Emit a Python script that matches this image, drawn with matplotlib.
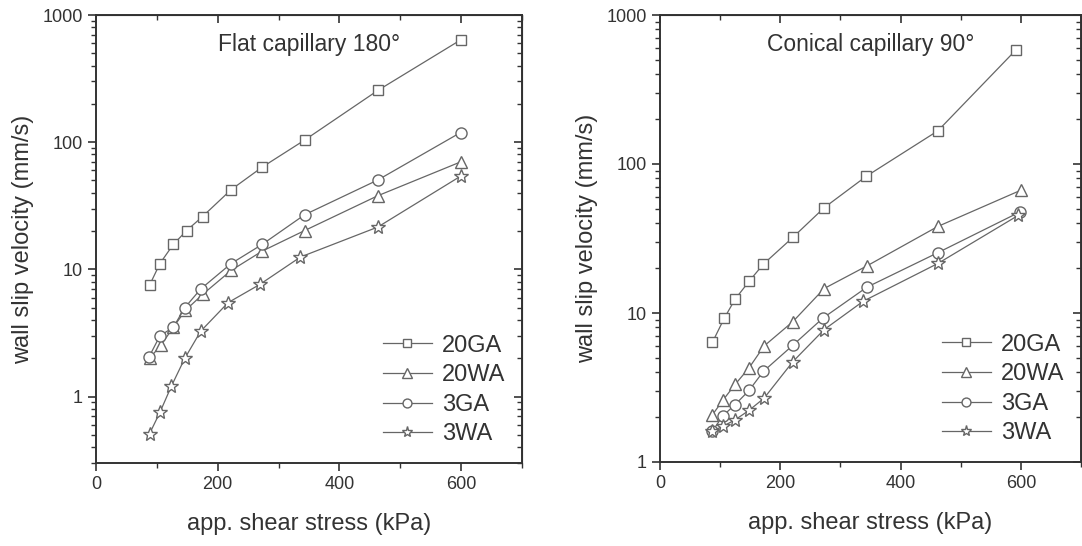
import numpy as np
import matplotlib
matplotlib.use("Agg")
import matplotlib.pyplot as plt
from matplotlib.ticker import LogLocator, FixedLocator, NullFormatter, MultipleLocator

plt.rcParams['font.family'] = ['Liberation Sans', 'DejaVu Sans']

# ---------------- data ----------------
labels = ["20GA", "20WA", "3GA", "3WA"]

# Flat capillary 180°
flat_x_20ga = [88, 105, 127, 149, 175, 222, 273, 343, 463, 599]
flat_y_20ga = [7.5, 11.1, 15.7, 20.2, 26, 42.3, 63.6, 104, 255, 636]
flat_x_20wa = [88, 107, 127, 147, 176, 222, 273, 343, 463, 599]
flat_y_20wa = [2.0, 2.54, 3.5, 4.76, 6.4, 9.8, 13.9, 20.2, 37.9, 69.9]
flat_x_3ga = [87, 105, 127, 146, 172, 222, 273, 343, 463, 599]
flat_y_3ga = [2.04, 3.0, 3.5, 5.0, 7.0, 11.1, 15.7, 26.9, 50.4, 119]
flat_x_3wa = [88, 105, 124, 146, 172, 217, 269, 336, 463, 599]
flat_y_3wa = [0.51, 0.75, 1.21, 2.0, 3.26, 5.47, 7.6, 12.5, 21.5, 54]

# Conical capillary 90°
con_x_20ga = [87, 107, 125, 148, 172, 221, 273, 343, 462, 592]
con_y_20ga = [6.34, 9.25, 12.4, 16.3, 21.3, 32.2, 50.9, 82.7, 167, 584]
con_x_20wa = [87, 105, 125, 148, 173, 221, 273, 344, 462, 600]
con_y_20wa = [2.07, 2.61, 3.32, 4.28, 6.0, 8.76, 14.6, 20.7, 38.1, 66.7]
con_x_3ga = [87, 105, 125, 148, 172, 221, 271, 344, 462, 599]
con_y_3ga = [1.61, 2.05, 2.43, 3.02, 4.06, 6.08, 9.25, 14.9, 25.4, 47.8]
con_x_3wa = [87, 105, 125, 148, 173, 221, 273, 338, 462, 596]
con_y_3wa = [1.61, 1.74, 1.92, 2.22, 2.68, 4.72, 7.74, 12.0, 21.5, 45.3]

markers = ["s", "^", "o", "*"]
msizes = [7, 8.5, 8, 10]

LINE = "#666666"
TXT = "#333333"

fig = plt.figure(figsize=(10.82, 5.46), dpi=100)
W, H = 1082, 546
ax1 = fig.add_axes([96 / W, 1 - 463 / H, (522 - 96) / W, (463 - 15) / H])
ax2 = fig.add_axes([660 / W, 1 - 462 / H, (1081 - 660) / W, (462 - 15) / H])


def draw(ax, xs, ys, title, ylo):
    for x, y, m, ms, lab in zip(xs, ys, markers, msizes, labels):
        ax.plot(x, y, color=LINE, lw=0.9, marker=m, ms=ms, mfc="white",
                mec=LINE, mew=1.0, label=lab)
    ax.set_yscale("log")
    ax.set_xlim(0, 700)
    ax.set_ylim(ylo, 1000)
    ax.xaxis.set_major_locator(FixedLocator([0, 200, 400, 600]))
    ax.xaxis.set_minor_locator(MultipleLocator(100))
    ax.yaxis.set_major_locator(FixedLocator([1, 10, 100, 1000]))
    ax.yaxis.set_major_formatter(plt.FuncFormatter(lambda v, p: f"{v:g}"))
    ax.yaxis.set_minor_locator(LogLocator(base=10, subs=np.arange(2, 10)))
    ax.yaxis.set_minor_formatter(NullFormatter())
    ax.tick_params(axis="both", which="major", labelsize=13, colors=TXT,
                   labelcolor=TXT, width=1.2, length=6, direction="out")
    ax.tick_params(axis="both", which="minor", width=1.0, length=3.5,
                   direction="out", colors=TXT)
    for s in ax.spines.values():
        s.set_linewidth(1.4)
        s.set_color(TXT)
    # mirrored axes with inward ticks
    top = ax.secondary_xaxis("top")
    top.xaxis.set_major_locator(FixedLocator([0, 200, 400, 600]))
    top.xaxis.set_minor_locator(MultipleLocator(100))
    top.tick_params(which="major", direction="in", length=6, width=1.2,
                    labeltop=False, colors=TXT)
    top.tick_params(which="minor", direction="in", length=3.5, width=1.0, colors=TXT)
    right = ax.secondary_yaxis("right")
    right.yaxis.set_major_locator(FixedLocator([1, 10, 100, 1000]))
    right.yaxis.set_minor_locator(LogLocator(base=10, subs=np.arange(2, 10)))
    right.yaxis.set_minor_formatter(NullFormatter())
    right.tick_params(which="major", direction="in", length=6, width=1.2,
                      labelright=False, colors=TXT)
    right.tick_params(which="minor", direction="in", length=3.5, width=1.0, colors=TXT)

    ax.set_xlabel("app. shear stress (kPa)", fontsize=17, color=TXT, labelpad=14)
    ax.set_ylabel("wall slip velocity (mm/s)", fontsize=17, color=TXT, labelpad=6)
    ax.text(0.5, 0.935, title, transform=ax.transAxes, ha="center", va="center",
            fontsize=16.5, color=TXT)
    leg = ax.legend(loc="lower right", bbox_to_anchor=(1.01, -0.008), frameon=False,
                    fontsize=17, handlelength=2.1, handletextpad=0.4,
                    labelspacing=0.32, numpoints=1, markerscale=0.8)
    for t in leg.get_texts():
        t.set_color(TXT)


draw(ax1,
     [flat_x_20ga, flat_x_20wa, flat_x_3ga, flat_x_3wa],
     [flat_y_20ga, flat_y_20wa, flat_y_3ga, flat_y_3wa],
     "Flat capillary 180°", 0.3)
draw(ax2,
     [con_x_20ga, con_x_20wa, con_x_3ga, con_x_3wa],
     [con_y_20ga, con_y_20wa, con_y_3ga, con_y_3wa],
     "Conical capillary 90°", 1)

fig.savefig("out.png", dpi=100)
